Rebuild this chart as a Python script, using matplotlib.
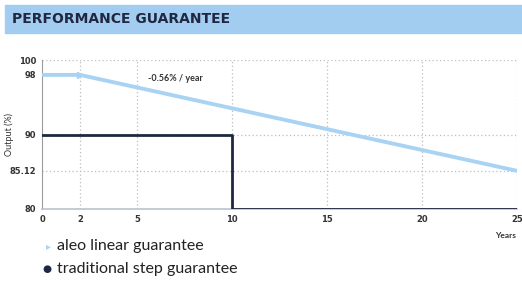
import matplotlib.pyplot as plt
from matplotlib.patches import Rectangle

# data
years_linear = [0, 2, 25]
output_linear = [98, 98, 85.12]
years_step = [0, 10, 10, 25]
output_step = [90, 90, 80, 80]
xticks = [0, 2, 5, 10, 15, 20, 25]
yticks = [80, 85.12, 90, 98, 100]
ytick_labels = ['80', '85.12', '90', '98', '100']

light_blue = '#a9d3f2'
navy = '#1f2840'

plt.rcParams['font.family'] = ['Lato', 'DejaVu Sans']

fig = plt.figure(figsize=(5.22, 2.87), dpi=100)

# title band
fig.patches.append(Rectangle((5 / 522, 1 - 33 / 287), 1, 28 / 287,
                             transform=fig.transFigure, color='#a3cdf0', zorder=0))
fig.text(12 / 522, 1 - 19 / 287, 'PERFORMANCE GUARANTEE', fontsize=10,
         fontweight='bold', color=navy, va='center', ha='left',
         family=['DejaVu Sans'])

ax = fig.add_axes([42 / 522, 1 - 209 / 287, 475 / 522, 149 / 287])
ax.plot(years_linear, output_linear, color=light_blue, lw=2.8, solid_capstyle='butt', zorder=3)
ax.plot([years_linear[1]], [output_linear[1]], marker='>', color=light_blue, ms=4, zorder=4)
ax.plot(years_step, output_step, color=navy, lw=2, zorder=3)

ax.set_xlim(0, 25)
ax.set_ylim(80, 100)
ax.set_xticks(xticks)
ax.set_yticks(yticks)
ax.set_yticklabels(ytick_labels)
ax.tick_params(length=0, labelsize=6, colors='#333333', pad=4)
for lab in ax.get_xticklabels() + ax.get_yticklabels():
    lab.set_fontweight('bold')
    lab.set_family(['DejaVu Sans'])

# dotted grid
for x in xticks[1:]:
    ax.axvline(x, color='#bdbdbd', lw=0.9, ls=(0, (1, 2)), zorder=1)
for y in [85.12, 90, 100]:
    ax.axhline(y, color='#bdbdbd', lw=0.9, ls=(0, (1, 2)), zorder=1)

for side in ['top', 'right']:
    ax.spines[side].set_visible(False)
ax.spines['left'].set_color('#9a9a9a')
ax.spines['bottom'].set_color('#b8c4d0')
ax.spines['bottom'].set_linewidth(1.2)

fig.text(9 / 522, 1 - 135 / 287, 'Output (%)', fontsize=6.5, rotation=90,
         color='#333333', ha='center', va='center')
ax.text(5.6, 97.5, '-0.56% / year', fontsize=6.5, fontweight='bold', color='#333333',
        ha='left', va='center')
fig.text(495 / 522, 1 - 236 / 287, 'Years', fontsize=6, fontweight='bold',
         color='#333333', ha='left', va='center')

# legend
fig.text(48 / 522, 1 - 246 / 287, '\u25B8', fontsize=7, color=light_blue,
         ha='center', va='center', family=['DejaVu Sans'])
fig.text(57 / 522, 1 - 246 / 287, 'aleo linear guarantee', fontsize=11.5,
         color='#222222', ha='left', va='center')
fig.text(47 / 522, 1 - 269 / 287, '\u25CF', fontsize=7.5, color=navy,
         ha='center', va='center', family=['DejaVu Sans'])
fig.text(57 / 522, 1 - 269 / 287, 'traditional step guarantee', fontsize=11.5,
         color='#222222', ha='left', va='center')

fig.savefig('out.png', dpi=100)
